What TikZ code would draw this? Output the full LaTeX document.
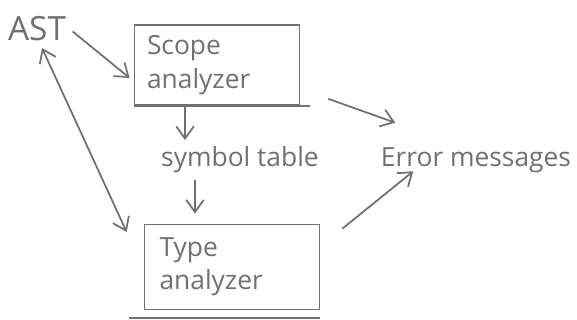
\documentclass[tikz,border=0pt]{standalone}
\usepackage{fontspec}
\setmainfont{Open Sans}
\usepackage{tikz}
\usepackage{xcolor}
\usetikzlibrary{arrows.meta,positioning}
\definecolor{pencilGray}{RGB}{112,112,112}

\begin{document}
\begin{tikzpicture}[x=0.02cm, y=-0.02cm, pencilGray, line width=1pt,
    >={Straight Barb[length=7pt,width=10pt]}, font=\fontsize{15}{19}\selectfont]
    \useasboundingbox (0,0) rectangle (577,320);
    \node[font=\fontsize{19}{23}\selectfont] (ast) at (37,29) {AST};
    \node[rectangle, draw, minimum width=3.3cm, minimum height=1.6cm, text width=2.8cm, align=left] (scope) at (217,65) {Scope\\analyzer};
    \node (symtab) at (240,160) {symbol table};
    \node[rectangle, draw, minimum width=3.5cm, minimum height=1.7cm, text width=2.9cm, align=left] (type) at (232,267) {Type\\analyzer};
    \node (err) at (476,160) {Error messages};
    % lines under the two boxes
    \draw (scope.south west) -- ([xshift=0.2cm]scope.south east);
    \draw ([xshift=-0.3cm,yshift=-0.16cm]type.south west) -- ([yshift=-0.16cm]type.south east);
    \draw[->] ([yshift=-0.05cm]ast.east) -- ([xshift=-0.08cm,yshift=-0.26cm]scope.west);
    \draw[<->] ([xshift=0.1cm]ast.south) -- ([xshift=-0.34cm,yshift=0.7cm]type.west);
    \draw[->] ([xshift=-0.64cm]scope.south) -- ([xshift=-1.1cm]symtab.north);
    \draw[->] ([xshift=-0.9cm]symtab.south) -- ([xshift=-0.74cm,yshift=0.2cm]type.north);
    \draw[->] ([xshift=0.56cm,yshift=0.14cm]scope.south east) -- ([xshift=0.42cm,yshift=0.36cm]err.north west);
    \draw[->] ([xshift=0.44cm,yshift=-0.1cm]type.north east) -- ([xshift=0.78cm,yshift=0.16cm]err.south west);
\end{tikzpicture}
\end{document}
